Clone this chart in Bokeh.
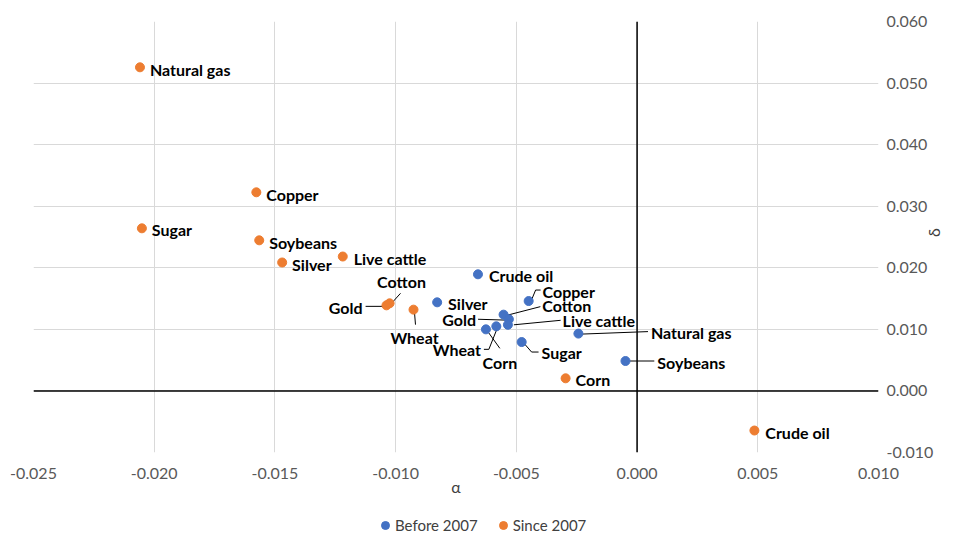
import math
from bokeh.plotting import figure
from bokeh.layouts import column
from bokeh.models import Span, Legend, LegendItem, ColumnDataSource, Range1d, FixedTicker
from bokeh.core.properties import value
from bokeh.embed import file_html
from bokeh.resources import INLINE

# ---------------- data ----------------
names_before = ["Crude oil", "Silver", "Copper", "Cotton", "Gold", "Live cattle",
                "Wheat", "Corn", "Sugar", "Natural gas", "Soybeans"]
alpha_before = [-0.00659, -0.00828, -0.00449, -0.00553, -0.00531, -0.00535,
                -0.00583, -0.00626, -0.00478, -0.00243, -0.00048]
delta_before = [0.01894, 0.01439, 0.01460, 0.01239, 0.01164, 0.01074,
                0.01049, 0.01000, 0.00794, 0.00931, 0.00486]

names_since = ["Natural gas", "Copper", "Sugar", "Soybeans", "Silver", "Live cattle",
               "Gold", "Cotton", "Wheat", "Corn", "Crude oil"]
alpha_since = [-0.02059, -0.01577, -0.02051, -0.01565, -0.01470, -0.01219,
               -0.01038, -0.01025, -0.00926, -0.00296, 0.00486]
delta_since = [0.05256, 0.03226, 0.02641, 0.02446, 0.02086, 0.02183,
               0.01390, 0.01423, 0.01320, 0.00205, -0.00643]

x_ticks = [-0.025, -0.020, -0.015, -0.010, -0.005, 0.000, 0.005, 0.010]
x_tick_labels = ["-0.025", "-0.020", "-0.015", "-0.010", "-0.005", "0.000", "0.005", "0.010"]
y_ticks = [-0.010, 0.000, 0.010, 0.020, 0.030, 0.040, 0.050, 0.060]
y_tick_labels = ["-0.010", "0.000", "0.010", "0.020", "0.030", "0.040", "0.050", "0.060"]

series_names = ["Before 2007", "Since 2007"]

# ---------------- label placement (pixel offsets from the point; screen y down) ----------------
place_before = {
    "Crude oil":   (11, 1, "left", []),
    "Silver":      (11, 1, "left", []),
    "Copper":      (14, -10, "left", [(12, -11), (7, -11), (2, 1)]),
    "Cotton":      (39, -9, "left", [(37, -8), (2, 1)]),
    "Gold":        (-33, 0, "right", [(-31, 0), (2, 1)]),
    "Live cattle": (55, -4.5, "left", [(53, -4.5), (6, 0)]),
    "Wheat":       (-15.5, 23, "right", [(-12.5, 23), (-7.5, 23), (0.5, 3)]),
    "Corn":        (14, 33, "center", [(14, 19), (1, 1)]),
    "Sugar":       (20, 10, "left", [(17, 10), (10, 10), (3, 2)]),
    "Natural gas": (73, -1, "left", [(70, -2), (3, 0.5)]),
    "Soybeans":    (32, 1, "left", [(29, 0), (4, 0)]),
}
place_since = {
    "Natural gas": (10, 2, "left", []),
    "Copper":      (10, 2, "left", []),
    "Sugar":       (10, 1, "left", []),
    "Soybeans":    (10, 2, "left", []),
    "Silver":      (10, 2, "left", []),
    "Live cattle": (11, 2, "left", []),
    "Gold":        (-24, 2, "right", [(-21, 1), (-3, 1)]),
    "Cotton":      (12, -22, "center", [(11, -10), (1, 1)]),
    "Wheat":       (1, 28, "center", [(1, 3), (2, 15)]),
    "Corn":        (10, 1, "left", []),
    "Crude oil":   (11, 2, "left", []),
}

BLUE = "#4472C4"
ORANGE = "#ED7D31"
FONT = "Lato"

W, H, HL = 955, 510, 25
BL, BR, BT, BB = 33, 72, 21, 58
XMIN, XMAX, YMIN, YMAX = -0.025, 0.010, -0.010, 0.060
sx = (W - BL - BR) / (XMAX - XMIN)
sy = (H - BT - BB) / (YMAX - YMIN)

p = figure(width=W, height=H, x_range=Range1d(XMIN, XMAX), y_range=Range1d(YMIN, YMAX),
           y_axis_location="right", output_backend="svg", toolbar_location=None,
           min_border_left=BL, min_border_right=BR, min_border_top=BT, min_border_bottom=BB)
p.outline_line_color = None
p.background_fill_color = "white"

for ax, ticks, labels in ((p.xaxis[0], x_ticks, x_tick_labels), (p.yaxis[0], y_ticks, y_tick_labels)):
    ax.ticker = FixedTicker(ticks=ticks)
    ax.major_label_overrides = {t: l for t, l in zip(ticks, labels)}
    ax.axis_line_color = None
    ax.major_tick_line_color = None
    ax.minor_tick_line_color = None
    ax.major_tick_out = 0
    ax.major_label_text_font = FONT
    ax.major_label_text_font_size = "16px"
    ax.major_label_text_color = "#595959"
    ax.axis_label_text_font = FONT
    ax.axis_label_text_font_size = "16px"
    ax.axis_label_text_font_style = "normal"
    ax.axis_label_text_color = "#404040"

p.xaxis.axis_label = "α"
p.yaxis.axis_label = "δ"
p.yaxis.axis_label_orientation = math.pi / 2
p.xaxis.major_label_standoff = 15
p.xaxis.axis_label_standoff = -5
p.yaxis.major_label_standoff = 8
p.yaxis.axis_label_standoff = -3

p.xgrid.grid_line_color = "#d9d9d9"
p.ygrid.grid_line_color = "#d9d9d9"
p.xgrid.ticker = FixedTicker(ticks=x_ticks)
p.ygrid.ticker = FixedTicker(ticks=y_ticks)

p.add_layout(Span(location=0, dimension="height", line_color="black", line_width=1.5))
p.add_layout(Span(location=0, dimension="width", line_color="black", line_width=1.5))


def build(names, alphas, deltas, place):
    lx, ly, al, lxs, lys = [], [], [], [], []
    for n, a, d in zip(names, alphas, deltas):
        dx, dy, align, leader = place[n]
        lx.append(a + dx / sx)
        ly.append(d - dy / sy)
        al.append(align)
        if leader:
            lxs.append([a + ox / sx for ox, oy in leader])
            lys.append([d - oy / sy for ox, oy in leader])
    return lx, ly, al, lxs, lys


series = ((names_before, alpha_before, delta_before, place_before, BLUE),
          (names_since, alpha_since, delta_since, place_since, ORANGE))
for names, alphas, deltas, place, color in series:
    lx, ly, al, lxs, lys = build(names, alphas, deltas, place)
    p.multi_line(xs=lxs, ys=lys, line_color="black", line_width=1)
    p.scatter(x=alphas, y=deltas, size=9, fill_color=color, line_color=color)
    src = ColumnDataSource(dict(x=lx, y=ly, t=names, align=al))
    p.text(x="x", y="y", text="t", source=src, text_align="align", text_baseline="middle",
           text_font=value(FONT), text_font_size="16px", text_font_style="bold",
           text_color="black")

# ---------------- legend strip below the chart ----------------
# the strip's ranges keep its copies of the series out of view; only the legend is seen
pl = figure(width=W, height=HL, x_range=Range1d(1, 2), y_range=Range1d(1, 2),
            x_axis_location=None, y_axis_location=None, output_backend="svg",
            toolbar_location=None, min_border=0)
pl.outline_line_color = None
pl.grid.visible = False
legend_renderers = [pl.scatter(x=alphas, y=deltas, size=9, fill_color=color, line_color=color)
                    for names, alphas, deltas, place, color in series]

legend = Legend(items=[LegendItem(label=n, renderers=[r]) for n, r in zip(series_names, legend_renderers)],
                orientation="horizontal", location=(342, 0))
legend.border_line_color = None
legend.background_fill_alpha = 0
legend.padding = 0
legend.margin = 0
legend.spacing = 15
legend.glyph_width = 20
legend.glyph_height = 20
legend.label_height = 20
legend.label_standoff = -3
legend.label_text_font = FONT
legend.label_text_font_size = "15px"
legend.label_text_color = "#404040"
pl.add_layout(legend, "center")

layout = column(p, pl, spacing=0)
open("out.html", "w").write(file_html(layout, INLINE))
